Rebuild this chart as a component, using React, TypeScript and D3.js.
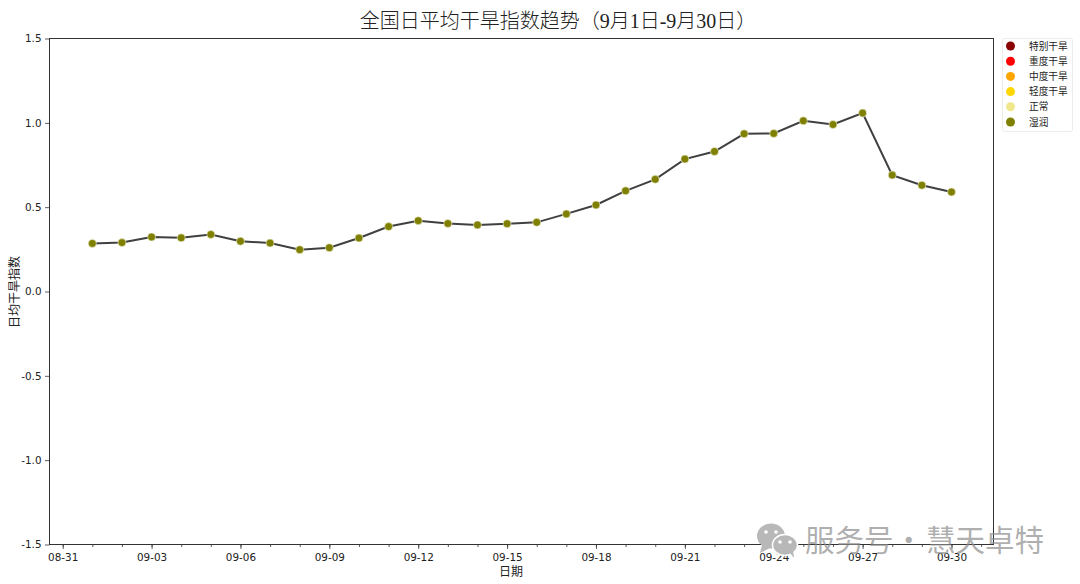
import React, { useEffect, useRef } from "react";
import * as d3 from "d3";

const dates = [
  "09-01", "09-02", "09-03", "09-04", "09-05", "09-06", "09-07", "09-08", "09-09", "09-10",
  "09-11", "09-12", "09-13", "09-14", "09-15", "09-16", "09-17", "09-18", "09-19", "09-20",
  "09-21", "09-22", "09-23", "09-24", "09-25", "09-26", "09-27", "09-28", "09-29", "09-30",
];
const droughtIndex = [
  0.285, 0.29, 0.323, 0.318, 0.338, 0.298, 0.287, 0.248, 0.26, 0.317,
  0.385, 0.42, 0.403, 0.395, 0.402, 0.41, 0.46, 0.513, 0.597, 0.665,
  0.785, 0.83, 0.935, 0.937, 1.012, 0.99, 1.058, 0.69, 0.63, 0.59,
];
const yTicks = [-1.5, -1.0, -0.5, 0.0, 0.5, 1.0, 1.5];
const legendLabels = ["特别干旱", "重度干旱", "中度干旱", "轻度干旱", "正常", "湿润"];
const legendColors = ["#8b0000", "#ff0000", "#ffa500", "#ffd700", "#f0e68c", "#808000"];

const sansFont = "'DejaVu Sans', 'Noto Sans CJK SC', sans-serif";
const cjkFont = "'Noto Sans CJK SC', sans-serif";
const parseDate = (s: string) => new Date(Date.UTC(2024, +s.slice(0, 2) - 1, +s.slice(3)));

export default function App() {
  const svgRef = useRef<SVGSVGElement>(null);

  useEffect(() => {
    const svg = d3.select(svgRef.current);
    svg.selectAll("*").remove();

    const margin = { top: 38.5, right: 86.5, bottom: 39.5, left: 49.5 };
    const width = 1080;
    const height = 584;

    // frame runs about half a day before 08-31 and 1.4 days past 09-30
    const xScale = d3.scaleUtc()
      .domain([new Date(Date.UTC(2024, 7, 30, 13, 18)), new Date(Date.UTC(2024, 9, 1, 10, 2))])
      .range([margin.left, width - margin.right]);
    const yScale = d3.scaleLinear()
      .domain([-1.5, 1.5])
      .range([height - margin.bottom, margin.top]);

    // --- Frame ---
    svg.append("rect")
      .attr("x", margin.left)
      .attr("y", margin.top)
      .attr("width", width - margin.right - margin.left)
      .attr("height", height - margin.bottom - margin.top)
      .attr("fill", "none")
      .attr("stroke", "#333")
      .attr("stroke-width", 1);

    // --- X axis ---
    const majorDays = d3.utcDay.range(parseDate("08-31"), parseDate("09-30"), 3)
      .concat([parseDate("09-30")]);
    const minorDays = d3.utcDay.range(parseDate("08-31"), d3.utcDay.offset(parseDate("09-30"), 2));

    const xMinor = svg.append("g")
      .attr("transform", `translate(0,${height - margin.bottom})`)
      .call(d3.axisBottom(xScale).tickValues(minorDays).tickSize(2.5).tickFormat(() => ""));
    xMinor.select(".domain").remove();

    const xAxis = svg.append("g")
      .attr("transform", `translate(0,${height - margin.bottom})`)
      .call(d3.axisBottom(xScale).tickValues(majorDays).tickSize(4.5).tickPadding(5)
        .tickFormat(d3.utcFormat("%m-%d") as any));
    xAxis.select(".domain").remove();
    xAxis.selectAll("text")
      .style("font-family", sansFont)
      .style("font-size", "10.4px")
      .style("fill", "#222");

    // --- Y axis ---
    const yAxis = svg.append("g")
      .attr("transform", `translate(${margin.left},0)`)
      .call(d3.axisLeft(yScale).tickValues(yTicks).tickSize(4.5).tickPadding(3.5)
        .tickFormat(d => (+d).toFixed(1)));
    yAxis.select(".domain").remove();
    yAxis.selectAll("text")
      .style("font-family", sansFont)
      .style("font-size", "10.4px")
      .style("fill", "#222");

    svg.selectAll(".tick line").attr("stroke", "#333").attr("stroke-width", 0.8);

    // --- Line and points ---
    const line = d3.line<number>()
      .x((_, i) => xScale(parseDate(dates[i])))
      .y(d => yScale(d));

    svg.append("path")
      .datum(droughtIndex)
      .attr("d", line)
      .attr("fill", "none")
      .attr("stroke", "#404040")
      .attr("stroke-width", 2);

    svg.selectAll(".point")
      .data(droughtIndex)
      .join("circle")
      .attr("class", "point")
      .attr("cx", (_, i) => xScale(parseDate(dates[i])))
      .attr("cy", d => yScale(d))
      .attr("r", 4)
      .attr("fill", "#808000")
      .attr("stroke", "#f4f4e4")
      .attr("stroke-width", 0.6);

    // --- Title and axis labels ---
    svg.append("text")
      .attr("x", 558)
      .attr("y", 28)
      .attr("text-anchor", "middle")
      .style("font-family", "'Liberation Serif', 'Noto Sans CJK SC', serif")
      .style("font-size", "20px")
      .style("font-weight", "300")
      .style("fill", "#222")
      .text("全国日平均干旱指数趋势（9月1日-9月30日）");

    svg.append("text")
      .attr("x", 511)
      .attr("y", 575.5)
      .attr("text-anchor", "middle")
      .style("font-family", cjkFont)
      .style("font-size", "12px")
      .style("fill", "#222")
      .text("日期");

    svg.append("text")
      .attr("transform", "translate(19,292) rotate(-90)")
      .attr("text-anchor", "middle")
      .style("font-family", cjkFont)
      .style("font-size", "12px")
      .style("fill", "#222")
      .text("日均干旱指数");

    // --- Legend ---
    const legendY = d3.scalePoint<string>()
      .domain(legendLabels)
      .range([46, 122]);

    svg.append("rect")
      .attr("x", 1002.5)
      .attr("y", 38.5)
      .attr("width", 70)
      .attr("height", 93)
      .attr("rx", 2)
      .attr("fill", "#fff")
      .attr("stroke", "#ececec")
      .attr("stroke-width", 1);

    const legendRows = svg.selectAll(".legend-row")
      .data(legendLabels)
      .join("g")
      .attr("class", "legend-row")
      .attr("transform", d => `translate(0,${legendY(d)})`);

    legendRows.append("circle")
      .attr("cx", 1010.5)
      .attr("r", 4.5)
      .attr("fill", (_, i) => legendColors[i]);

    legendRows.append("text")
      .attr("x", 1029)
      .attr("dy", "0.36em")
      .style("font-family", cjkFont)
      .style("font-size", "9.7px")
      .style("fill", "#222")
      .text(d => d);

    // --- Watermark ---
    const mark = svg.append("g").attr("fill", "#b8b8b8");
    mark.append("ellipse").attr("cx", 771).attr("cy", 536).attr("rx", 14).attr("ry", 12.5);
    mark.append("path").attr("d", "M762 545 L760 553 L770 548 Z");
    mark.append("ellipse").attr("cx", 785).attr("cy", 545).attr("rx", 12.5).attr("ry", 10.5)
      .attr("stroke", "#fff").attr("stroke-width", 1.5);
    mark.append("path").attr("d", "M790 553 L794 558 L793 550 Z");
    svg.append("g").attr("fill", "#fff")
      .selectAll("circle")
      .data([[766, 532], [776, 532], [780, 542], [790, 542]])
      .join("circle")
      .attr("cx", d => d[0])
      .attr("cy", d => d[1])
      .attr("r", 1.8);

    const watermark = svg.append("text")
      .attr("y", 551)
      .style("font-family", cjkFont)
      .style("font-size", "29.5px")
      .style("fill", "#8c8c8c")
      .style("fill-opacity", 0.7);
    watermark.append("tspan").attr("x", 805).text("服务号");
    watermark.append("tspan").attr("x", 894).text("·");
    watermark.append("tspan").attr("x", 926).text("慧天卓特");
  }, []);

  return (
    <svg
      ref={svgRef}
      width={1080}
      height={584}
      style={{ position: "absolute", left: 0, top: 0, background: "#fff" }}
    />
  );
}
